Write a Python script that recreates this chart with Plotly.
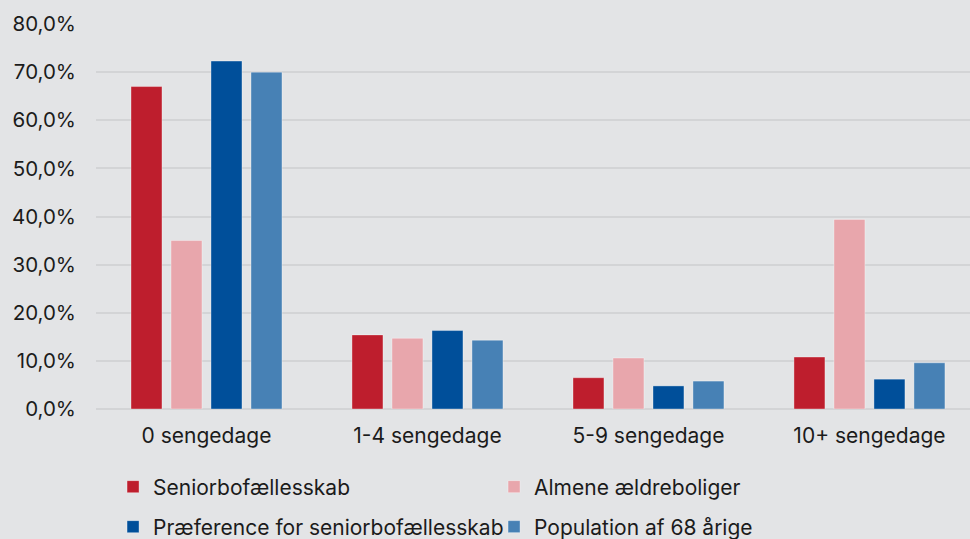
import plotly.graph_objects as go

categories = ["0 sengedage", "1-4 sengedage", "5-9 sengedage", "10+ sengedage"]
series_names = ["Seniorbofællesskab", "Almene ældreboliger",
                "Præference for seniorbofællesskab", "Population af 68 årige"]
seniorbo = [67.0, 15.4, 6.5, 10.8]
almene = [35.0, 14.7, 10.6, 39.4]
praeference = [72.3, 16.3, 4.8, 6.2]
population = [70.0, 14.3, 5.8, 9.6]
values = [seniorbo, almene, praeference, population]
colors = ["#be1e2d", "#e8a6ac", "#004f9a", "#4781b5"]
legend_ids = ["legend", "legend", "legend2", "legend2"]
y_ticks = [0, 10, 20, 30, 40, 50, 60, 70, 80]
y_tick_labels = ["0,0%", "10,0%", "20,0%", "30,0%", "40,0%",
                 "50,0%", "60,0%", "70,0%", "80,0%"]

BG = "#e3e4e6"
FONT = "Inter, Roboto, sans-serif"
TXT = "#1b1b1b"
FS = 21

fig = go.Figure()
for name, vals, col, lg in zip(series_names, values, colors, legend_ids):
    fig.add_trace(go.Bar(
        x=categories, y=vals, name=name, legend=lg,
        marker=dict(color=col, line=dict(color="rgba(255,255,255,0.35)", width=1)),
    ))

leg_common = dict(orientation="h", xanchor="left", yanchor="middle",
                  entrywidth=336, entrywidthmode="pixels", itemwidth=30,
                  font=dict(family=FONT, size=FS, color=TXT),
                  bgcolor="rgba(0,0,0,0)", borderwidth=0)

fig.update_layout(
    width=970, height=539,
    paper_bgcolor=BG, plot_bgcolor=BG,
    margin=dict(l=96, r=0, t=24, b=130, autoexpand=False),
    barmode="group", bargap=0.276, bargroupgap=0.225,
    font=dict(family=FONT, size=FS, color=TXT),
    showlegend=True,
    legend=dict(x=0.0195, y=-0.2026, **leg_common),
    legend2=dict(x=0.0195, y=-0.3065, **leg_common),
    xaxis=dict(range=[-0.5, 3.455], showgrid=False, showline=False,
               ticks="", ticklabelstandoff=12, tickfont=dict(size=FS)),
    yaxis=dict(range=[0, 80], tickvals=y_ticks, ticktext=y_tick_labels,
               showgrid=True, gridcolor="#d3d4d6", gridwidth=1.5,
               zeroline=True, zerolinecolor="#d3d4d6", zerolinewidth=1.5,
               ticks="", ticklabelstandoff=19, tickfont=dict(size=20.5)),
)

fig.write_html("out.html", config={"displayModeBar": False},
               post_script="document.body.style.margin='0';document.body.style.overflow='hidden';")
